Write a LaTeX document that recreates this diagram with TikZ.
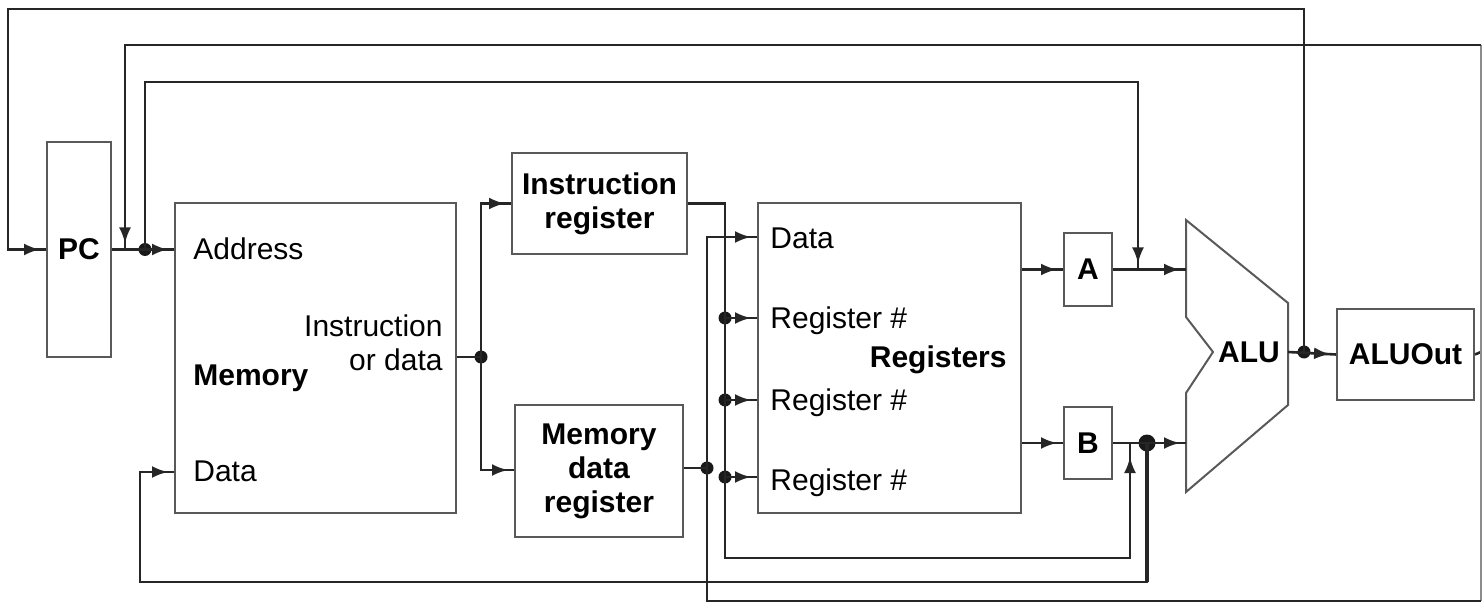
\documentclass[tikz,border=0pt]{standalone}
\usepackage{fontspec}
\setmainfont{Liberation Sans}
\usetikzlibrary{arrows.meta,decorations.markings}
\tikzset{
  box/.style={draw=black!65, line width=1pt, inner sep=0pt},
  conn/.style={draw=black!85, line width=1.3pt},
  edgeline/.style={draw=black!45, line width=0.9pt},
  arr/.style={postaction={decorate}, decoration={markings, mark=at position -3pt with {\arrow{Latex[length=8pt,width=6pt]}}}},
  arrfar/.style={postaction={decorate}, decoration={markings, mark=at position -7pt with {\arrow{Latex[length=8pt,width=6pt]}}}},
  dot/.style={circle, fill=black!90, draw=none, inner sep=0pt, minimum size=6.5pt},
  lbl/.style={inner sep=0pt, font=\fontsize{15}{17}\selectfont, text height=10.5pt, text depth=0pt},
  mlbl/.style={inner sep=0pt, font=\fontsize{15}{17}\selectfont},
  bold/.style={inner sep=0pt, font=\fontsize{15}{17}\selectfont\bfseries},
}
\begin{document}
\begin{tikzpicture}[x=0.5pt,y=-0.5pt]
\useasboundingbox (0,0) rectangle (1483,604);

% boxes
\node[box, minimum width=32pt, minimum height=107.5pt, font=\fontsize{15}{17}\selectfont\bfseries] (pc) at (79,249.5) {PC};
\node[box, minimum width=140.5pt, minimum height=155pt] (mem) at (315.5,358) {};
\node[box, minimum width=87.5pt, minimum height=50.5pt, align=center, font=\fontsize{15}{17}\selectfont\bfseries] (ir) at (599.5,203.5) {Instruction\\register};
\node[box, minimum width=84pt, minimum height=66pt, align=center, font=\fontsize{15}{17}\selectfont\bfseries] (mdr) at (599,471) {Memory\\data\\register};
\node[box, minimum width=131.5pt, minimum height=155pt] (regs) at (889.5,358) {};
\node[box, minimum width=24pt, minimum height=36.5pt, font=\fontsize{15}{17}\selectfont\bfseries] (a) at (1088,269.5) {A};
\node[box, minimum width=24pt, minimum height=36pt, font=\fontsize{15}{17}\selectfont\bfseries] (b) at (1088,443) {B};
\node[box, minimum width=68.5pt, minimum height=45.5pt, font=\fontsize{15}{17}\selectfont\bfseries] (aluout) at (1405.5,354.5) {ALUOut};

% ALU
\draw[box] (1186,220) -- (1288,303) -- (1288,405) -- (1186,492) -- (1186,393) -- (1213,352) -- (1186,317) -- cycle;
\node[bold] (alu) at (1249,352) {ALU};
\coordinate (aluinA) at (1186,269.5);
\coordinate (aluinB) at (1186,443);
\coordinate (aluo) at (1288,352);

% labels inside Memory
\node[lbl, anchor=west] (laddr) at (193,249.5) {Address};
\node[bold, anchor=west, text height=10.5pt, text depth=0pt] (lmem) at (193,375) {Memory};
\node[mlbl, anchor=east, align=right] (lid) at (443,343) {Instruction\\or data};
\node[lbl, anchor=west] (lmdata) at (193,471) {Data};

% labels inside Registers
\node[lbl, anchor=west] (lrdata) at (770,238) {Data};
\node[lbl, anchor=west] (lr1) at (770,318) {Register \#};
\node[lbl, anchor=west] (lr2) at (770,400) {Register \#};
\node[lbl, anchor=west] (lr3) at (770,480) {Register \#};
\node[bold, anchor=east, text height=10.5pt, text depth=0pt] (lregs) at (1007,357) {Registers};

% junction dots
\node[dot] (dpc) at (145,249.5) {};
\node[dot] (dmem) at (481,357) {};
\node[dot] (dr1) at (725,318) {};
\node[dot] (dr2) at (725,400) {};
\node[dot] (dr3) at (725,477) {};
\node[dot] (dmdr) at (707,468) {};
\node[dot, minimum size=8.5pt] (db) at (1147,443) {};
\node[dot] (dalu) at (1304,352) {};
\coordinate (rr) at (1481,352);

% ALU -> PC
\draw[conn,arr] (dalu.center) -- (1304,9) -- (8,9) -- (8,249.5) -- (pc.west);
% ALU -> ALUOut
\draw[conn,arr] (aluo) -- (aluout.west);
% PC -> Memory address
\draw[conn,arr] (pc.east) -- (mem.west |- pc.east);
% PC -> ALU input A
\draw[conn,arr] (dpc.center) -- (145,82) -- (1138,82) -- (1138,269.5);
% ALUOut -> Memory address and register write data
\draw[conn] (aluout.east) -- (rr);
\draw[edgeline] (1481,45) -- (1481,601);
\draw[conn,arr] (1481,45) -- (125,45) -- (125,249.5);
\draw[conn,arr] (1481,601) -- (707,601) -- (707,237) -- (regs.west |- 0,237);
% Memory -> IR / MDR
\draw[conn] (mem.east |- dmem) -- (dmem.center);
\draw[conn,arr] (dmem.center) -- (481,203.5) -- (ir.west);
\draw[conn,arr] (dmem.center) -- (481,470) -- (mdr.west |- 0,470);
% IR -> register numbers and ALU input B
\draw[conn,arrfar] (ir.east) -- (725,203.5) -- (725,558) -- (1130,558) -- (1130,443);
\draw[conn,arr] (dr1.center) -- (regs.west |- dr1);
\draw[conn,arr] (dr2.center) -- (regs.west |- dr2);
\draw[conn,arr] (dr3.center) -- (regs.west |- dr3);
% MDR -> register data
\draw[conn] (mdr.east |- dmdr) -- (dmdr.center);
% Registers -> A, B
\draw[conn,arr] (regs.east |- a.west) -- (a.west);
\draw[conn,arr] (regs.east |- b.west) -- (b.west);
% A, B -> ALU
\draw[conn,arr] (a.east) -- (aluinA);
\draw[conn,arr] (b.east) -- (aluinB);
% B -> Memory write data
\draw[conn,arr] (db.center) -- (1147,582) -- (140,582) -- (140,472) -- (mem.west |- 0,472);
\draw[conn, line width=2.2pt] (db.center) -- (1147,582);
\end{tikzpicture}
\end{document}
